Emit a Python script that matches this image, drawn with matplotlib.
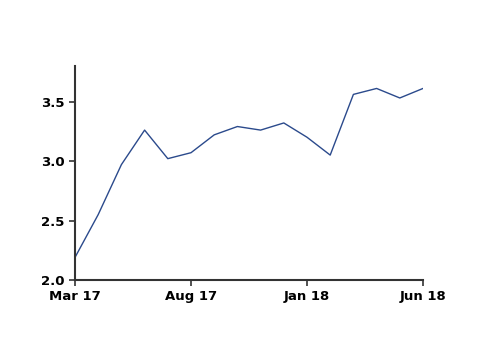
import matplotlib.pyplot as plt

# monthly values, Mar 17 .. Jun 18
months = ['Mar 17', 'Apr 17', 'May 17', 'Jun 17', 'Jul 17', 'Aug 17', 'Sep 17',
          'Oct 17', 'Nov 17', 'Dec 17', 'Jan 18', 'Feb 18', 'Mar 18', 'Apr 18',
          'May 18', 'Jun 18']
values = [2.19, 2.55, 2.97, 3.26, 3.02, 3.07, 3.22, 3.29, 3.26, 3.32,
          3.20, 3.05, 3.56, 3.61, 3.53, 3.61]
tick_months = ['Mar 17', 'Aug 17', 'Jan 18', 'Jun 18']
y_ticks = [2.0, 2.5, 3.0, 3.5]

fig = plt.figure(figsize=(5.0, 3.54), dpi=100)
ax = fig.add_axes([0.15, 0.209, 0.696, 0.605])

x = list(range(len(months)))
ax.plot(x, values, color='#2b4a8c', linewidth=1.0)

ax.set_xlim(0, len(months) - 1)
ax.set_ylim(2.0, 3.8)
ax.set_xticks([months.index(m) for m in tick_months])
ax.set_xticklabels(tick_months)
ax.set_yticks(y_ticks)
ax.set_yticklabels(['%.1f' % v for v in y_ticks])

for side in ['top', 'right']:
    ax.spines[side].set_visible(False)
for side in ['left', 'bottom']:
    ax.spines[side].set_color('#333333')
    ax.spines[side].set_linewidth(1.5)

ax.tick_params(axis='both', colors='#333333', width=1.2, length=4,
               labelsize=9.5, labelcolor='black')
for lab in ax.get_xticklabels() + ax.get_yticklabels():
    lab.set_fontweight('bold')

plt.savefig('out.png', dpi=100)
